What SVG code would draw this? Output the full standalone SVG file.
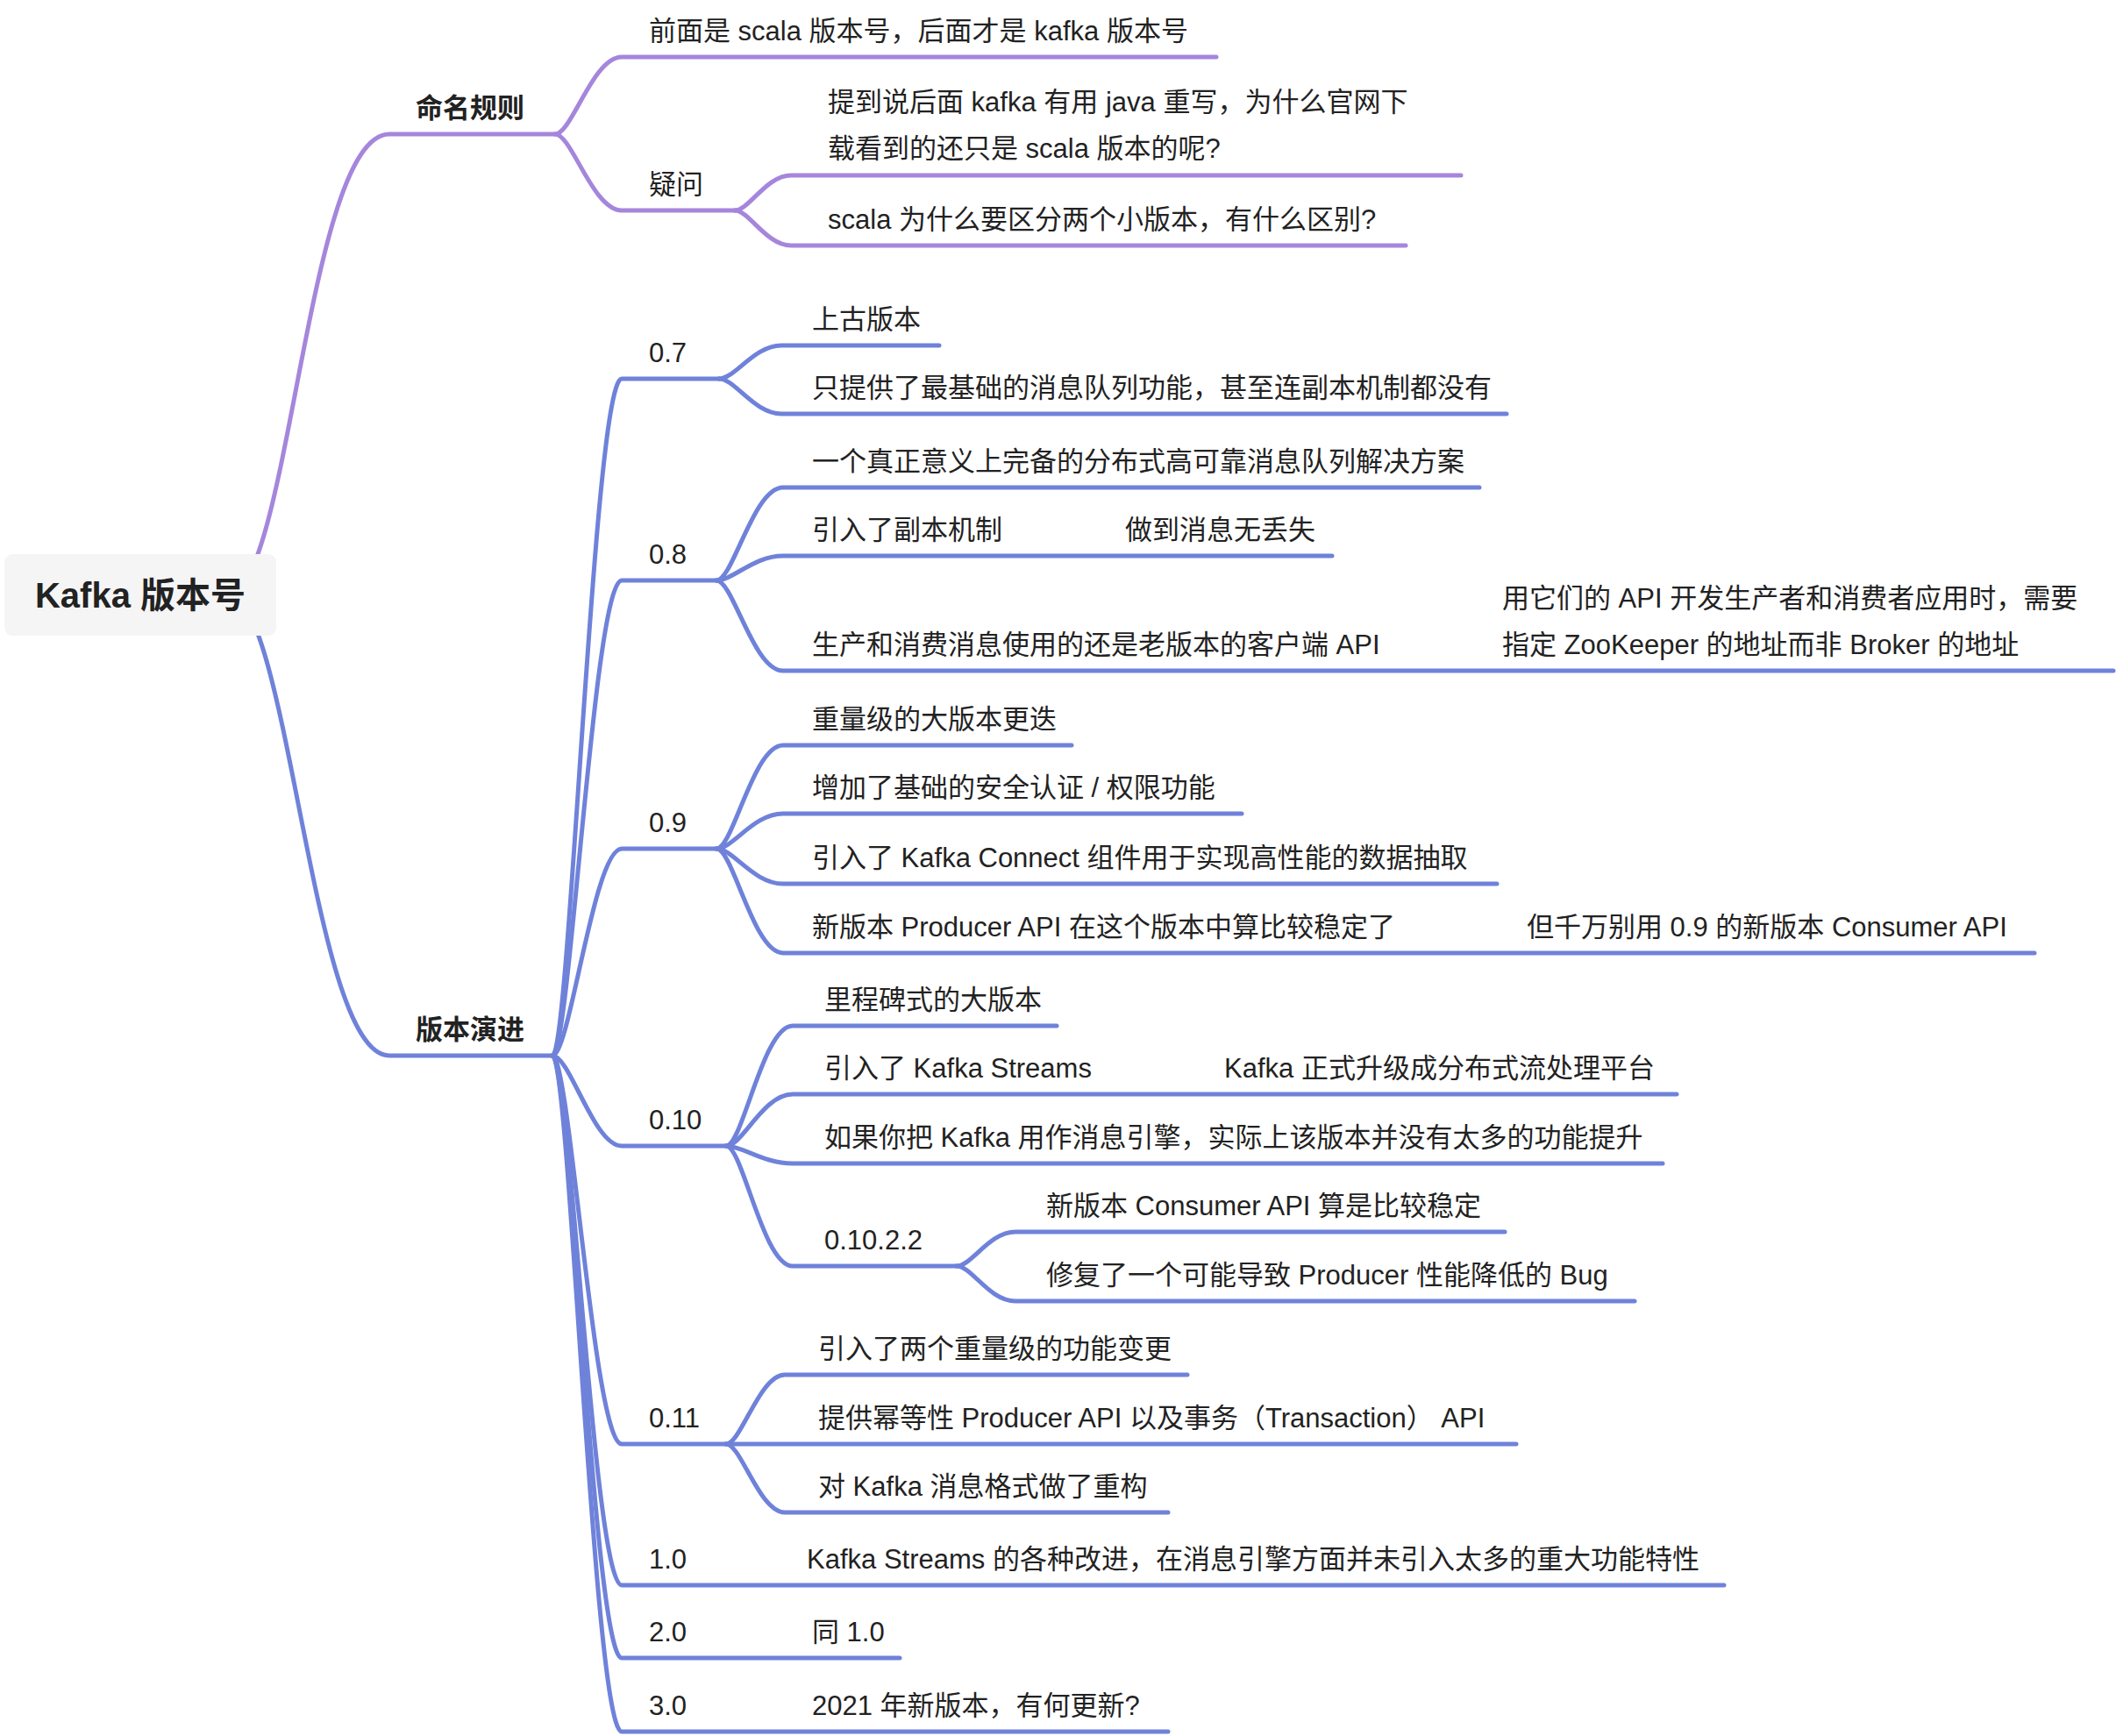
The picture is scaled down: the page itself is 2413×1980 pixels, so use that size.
<svg xmlns="http://www.w3.org/2000/svg" width="2413" height="1980" viewBox="0 0 2413 1980">
<style>
text{font-family:"Liberation Sans","Noto Sans CJK SC",sans-serif;font-size:31px;fill:#222}
.root{font-size:40px;font-weight:600}
.l1{font-weight:600}
.p{fill:none;stroke:#A586DC;stroke-width:5;stroke-linecap:round}
.b{fill:none;stroke:#6F82DA;stroke-width:5;stroke-linecap:round}
</style>
<rect width="2413" height="1980" fill="#fff"/>
<g id="connectors">
<path class="p" d="M260 678 C330 678 350 153 444 153 H633"/>
<path class="b" d="M260 678 C330 678 355 1204 444 1204 H630"/>
<path class="p" d="M633 153 C652 153 676 65 709 65 H1387"/>
<path class="p" d="M633 153 C652 153 676 240 709 240 H838"/>
<path class="p" d="M838 240 C854 240 874 200 902 200 H1666"/>
<path class="p" d="M838 240 C854 240 874 280 902 280 H1603"/>
<path class="b" d="M630 1204 C650 1204 677 432 709 432 H820"/>
<path class="b" d="M630 1204 C650 1204 677 662 709 662 H817"/>
<path class="b" d="M630 1204 C650 1204 677 968 709 968 H817"/>
<path class="b" d="M630 1204 C650 1204 677 1307 709 1307 H828"/>
<path class="b" d="M630 1204 C650 1204 677 1647 709 1647 H828"/>
<path class="b" d="M630 1204 C650 1204 677 1808 709 1808 H1966"/>
<path class="b" d="M630 1204 C650 1204 677 1891 709 1891 H1026"/>
<path class="b" d="M630 1204 C650 1204 677 1975 709 1975 H1332"/>
<path class="b" d="M820 432 C838 432 860 394 891 394 H1071"/>
<path class="b" d="M820 432 C838 432 860 472 891 472 H1718"/>
<path class="b" d="M817 662 C836 662 859 556 893 556 H1687"/>
<path class="b" d="M817 662 C836 662 859 634 893 634 H1519"/>
<path class="b" d="M817 662 C836 662 859 765 893 765 H2410"/>
<path class="b" d="M817 968 C836 968 859 850 893 850 H1222"/>
<path class="b" d="M817 968 C836 968 859 928 893 928 H1416"/>
<path class="b" d="M817 968 C836 968 859 1008 893 1008 H1707"/>
<path class="b" d="M817 968 C836 968 859 1087 893 1087 H2320"/>
<path class="b" d="M828 1307 C847 1307 870 1170 904 1170 H1205"/>
<path class="b" d="M828 1307 C847 1307 870 1248 904 1248 H1912"/>
<path class="b" d="M828 1307 C847 1307 870 1327 904 1327 H1896"/>
<path class="b" d="M828 1307 C847 1307 870 1444 904 1444 H1091"/>
<path class="b" d="M1091 1444 C1108 1444 1128 1405 1158 1405 H1716"/>
<path class="b" d="M1091 1444 C1108 1444 1128 1484 1158 1484 H1864"/>
<path class="b" d="M828 1647 C845 1647 866 1568 895 1568 H1354"/>
<path class="b" d="M828 1647 H1729"/>
<path class="b" d="M828 1647 C845 1647 866 1725 895 1725 H1332"/>
</g>
<g id="root">
<rect x="5" y="632" width="310" height="93" rx="9" fill="#F5F5F5"/>
<text class="root" x="160" y="693" text-anchor="middle">Kafka 版本号</text>
</g>
<g id="n-naming"><text class="l1" x="474" y="134">命名规则</text></g>
<g id="n-evolution"><text class="l1" x="474" y="1185">版本演进</text></g>
<g id="n-scala-first"><text x="740" y="46">前面是 scala 版本号，后面才是 kafka 版本号</text></g>
<g id="n-question"><text x="740" y="221">疑问</text></g>
<g id="n-q1"><text x="944" y="127">提到说后面 kafka 有用 java 重写，为什么官网下</text><text x="944" y="180">载看到的还只是 scala 版本的呢?</text></g>
<g id="n-q2"><text x="944" y="261">scala 为什么要区分两个小版本，有什么区别?</text></g>
<g id="n-07"><text x="740" y="413">0.7</text></g>
<g id="n-07a"><text x="926" y="375">上古版本</text></g>
<g id="n-07b"><text x="926" y="453">只提供了最基础的消息队列功能，甚至连副本机制都没有</text></g>
<g id="n-08"><text x="740" y="643">0.8</text></g>
<g id="n-08a"><text x="926" y="537">一个真正意义上完备的分布式高可靠消息队列解决方案</text></g>
<g id="n-08b"><text x="926" y="615">引入了副本机制</text></g>
<g id="n-08b1"><text x="1283" y="615">做到消息无丢失</text></g>
<g id="n-08c"><text x="926" y="746">生产和消费消息使用的还是老版本的客户端 API</text></g>
<g id="n-08c1"><text x="1713" y="693">用它们的 API 开发生产者和消费者应用时，需要</text><text x="1713" y="746">指定 ZooKeeper 的地址而非 Broker 的地址</text></g>
<g id="n-09"><text x="740" y="949">0.9</text></g>
<g id="n-09a"><text x="926" y="831">重量级的大版本更迭</text></g>
<g id="n-09b"><text x="926" y="909">增加了基础的安全认证 / 权限功能</text></g>
<g id="n-09c"><text x="926" y="989">引入了 Kafka Connect 组件用于实现高性能的数据抽取</text></g>
<g id="n-09d"><text x="926" y="1068">新版本 Producer API 在这个版本中算比较稳定了</text></g>
<g id="n-09d1"><text x="1741" y="1068">但千万别用 0.9 的新版本 Consumer API</text></g>
<g id="n-010"><text x="740" y="1288">0.10</text></g>
<g id="n-010a"><text x="940" y="1151">里程碑式的大版本</text></g>
<g id="n-010b"><text x="940" y="1229">引入了 Kafka Streams</text></g>
<g id="n-010b1"><text x="1396" y="1229">Kafka 正式升级成分布式流处理平台</text></g>
<g id="n-010c"><text x="940" y="1308">如果你把 Kafka 用作消息引擎，实际上该版本并没有太多的功能提升</text></g>
<g id="n-01022"><text x="940" y="1425">0.10.2.2</text></g>
<g id="n-01022a"><text x="1193" y="1386">新版本 Consumer API 算是比较稳定</text></g>
<g id="n-01022b"><text x="1193" y="1465">修复了一个可能导致 Producer 性能降低的 Bug</text></g>
<g id="n-011"><text x="740" y="1628">0.11</text></g>
<g id="n-011a"><text x="933" y="1549">引入了两个重量级的功能变更</text></g>
<g id="n-011b"><text x="933" y="1628">提供幂等性 Producer API 以及事务（Transaction） API</text></g>
<g id="n-011c"><text x="933" y="1706">对 Kafka 消息格式做了重构</text></g>
<g id="n-10"><text x="740" y="1789">1.0</text></g>
<g id="n-10a"><text x="920" y="1789">Kafka Streams 的各种改进，在消息引擎方面并未引入太多的重大功能特性</text></g>
<g id="n-20"><text x="740" y="1872">2.0</text></g>
<g id="n-20a"><text x="926" y="1872">同 1.0</text></g>
<g id="n-30"><text x="740" y="1956">3.0</text></g>
<g id="n-30a"><text x="926" y="1956">2021 年新版本，有何更新?</text></g>
</svg>
